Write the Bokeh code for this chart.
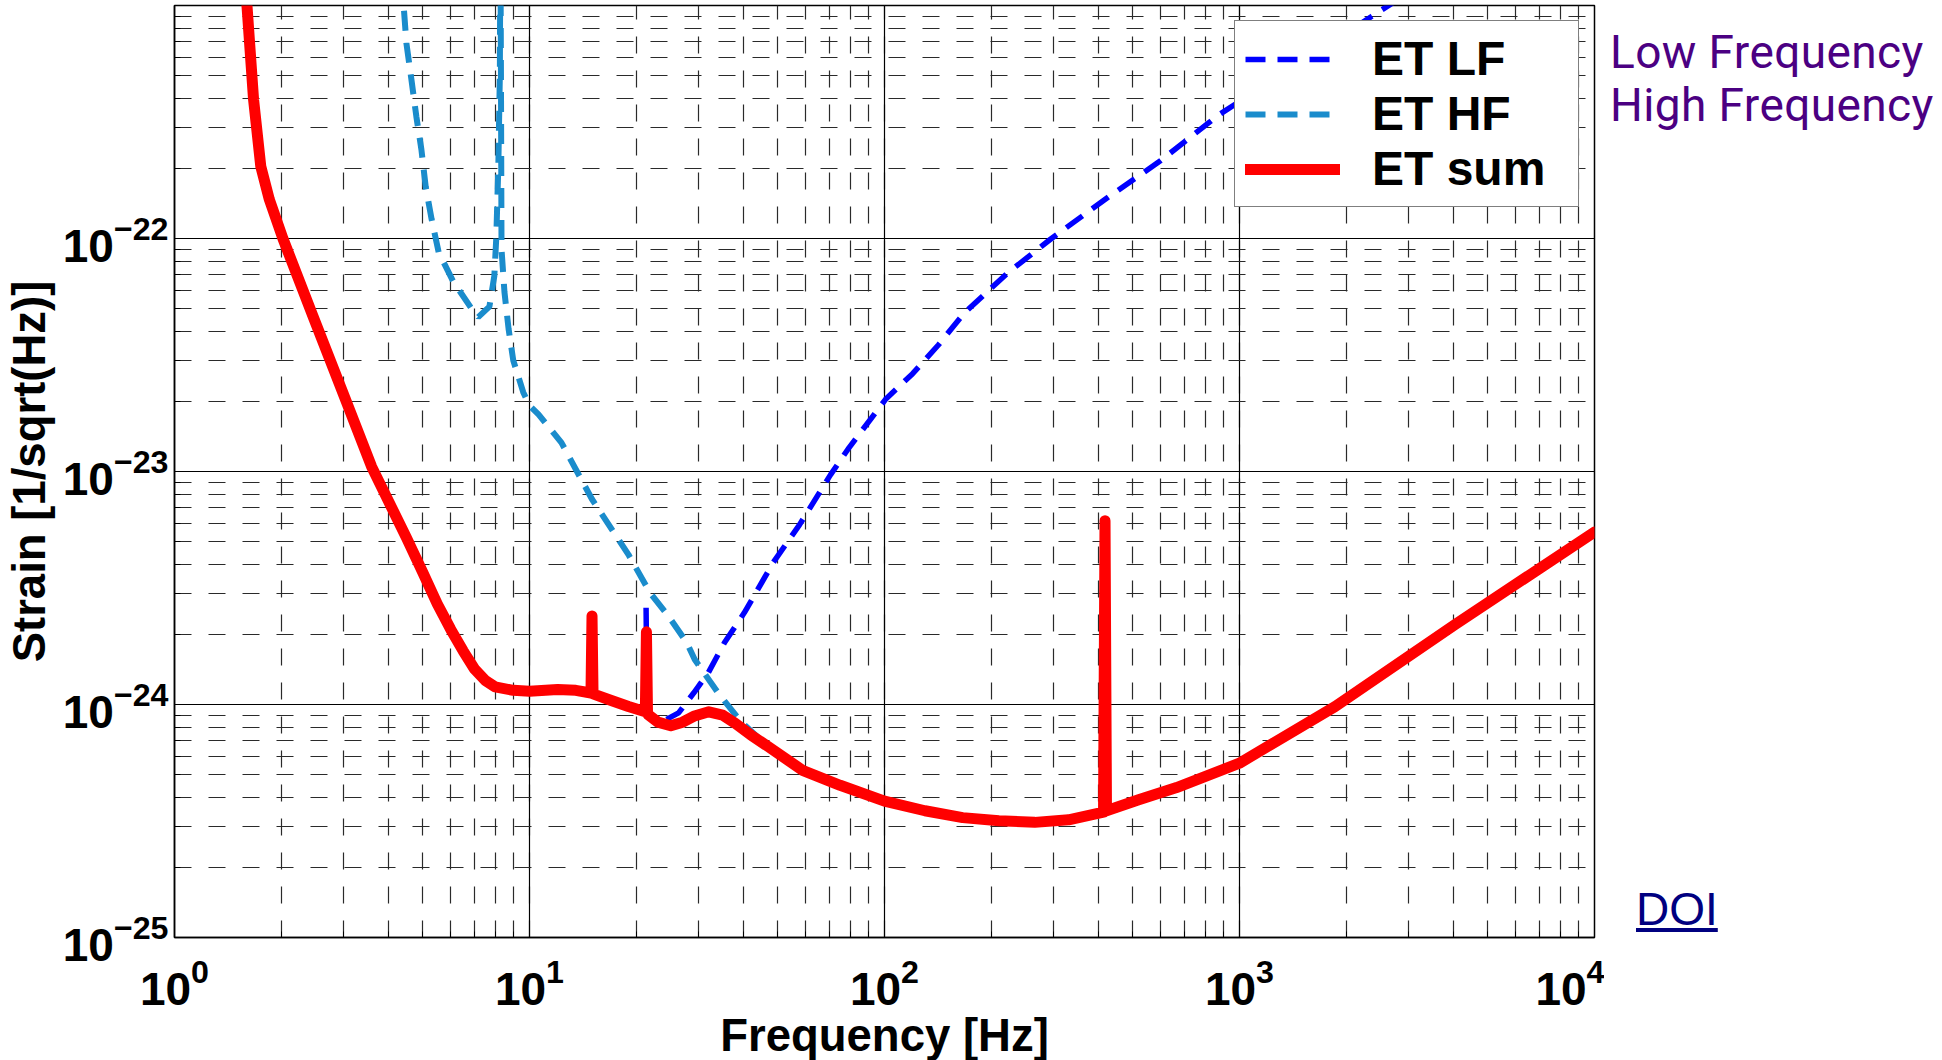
from bokeh.plotting import figure
from bokeh.models import Legend, LegendItem, Div, FixedTicker
from bokeh.layouts import row
from bokeh.embed import file_html
from bokeh.resources import INLINE

# ---------------- data ----------------
sum_f = [1.55, 1.60, 1.67, 1.75, 1.85, 2.02, 2.46, 3.03, 3.59, 4.0, 4.5, 5.0, 5.5,
         6.0, 6.5, 7.0, 7.5, 8.0, 9.0, 10.0, 12.0, 13.5, 14.9, 15.0, 15.1, 17.0,
         19.0, 21.2, 21.35, 21.5, 23.0, 25.0, 27.0, 29.0, 32.0, 35.0, 38.0, 42.0,
         47.0, 59.0, 75.0, 100.0, 130.0, 166.0, 210.0, 265.0, 330.0, 414.0, 418.0,
         422.0, 520.0, 665.0, 1000.0, 1860.0, 4040.0, 10000.0]
sum_h = [1.3e-21, 1.0e-21, 3.95e-22, 2.04e-22, 1.47e-22, 1.0e-22, 4.6e-23, 2.04e-23,
         1.05e-23, 7.5e-24, 5.2e-24, 3.7e-24, 2.7e-24, 2.1e-24, 1.7e-24, 1.42e-24,
         1.27e-24, 1.19e-24, 1.15e-24, 1.14e-24, 1.16e-24, 1.15e-24, 1.12e-24, 2.4e-24,
         1.11e-24, 1.04e-24, 9.8e-25, 9.3e-25, 2.05e-24, 9.1e-25, 8.4e-25, 8.1e-25,
         8.4e-25, 8.9e-25, 9.3e-25, 9.0e-25, 8.3e-25, 7.4e-25, 6.6e-25, 5.2e-25,
         4.5e-25, 3.85e-25, 3.5e-25, 3.27e-25, 3.17e-25, 3.12e-25, 3.2e-25, 3.45e-25,
         6.15e-24, 3.5e-25, 3.9e-25, 4.4e-25, 5.6e-25, 9.8e-25, 2.2e-24, 5.5e-24]

lf_f = [21.3, 21.45, 23.5, 26.3, 29.0, 31.9, 35.4, 40.3, 43.6, 48.6, 57.6, 70.5,
        79.6, 100.7, 120.0, 142.0, 168.0, 222.0, 294.0, 428.0, 600.0, 871.0, 2355.0,
        2900.0]
lf_h = [2.6e-24, 9.2e-25, 8.4e-25, 9.2e-25, 1.12e-24, 1.37e-24, 1.84e-24, 2.48e-24,
        3.05e-24, 4.07e-24, 5.9e-24, 9.7e-24, 1.27e-23, 2.04e-23, 2.63e-23, 3.5e-23,
        4.8e-23, 7.1e-23, 9.95e-23, 1.51e-22, 2.16e-22, 3.38e-22, 8.97e-22, 1.1e-21]

hf_f = [4.35, 4.42, 4.5, 4.65, 4.8, 4.96, 5.1, 5.3, 5.55, 6.11, 6.95, 7.17, 7.71,
        7.96, 8.06, 8.17, 8.25, 8.28, 8.31, 8.34, 8.5, 8.73, 9.0, 9.6, 10.0, 10.6,
        12.3, 15.0, 19.0, 21.9, 24.6, 27.7, 29.2, 34.0, 39.5, 45.0]
hf_h = [1.3e-21, 1.0e-21, 6.9e-22, 4.8e-22, 3.34e-22, 2.41e-22, 1.67e-22, 1.21e-22,
        8.7e-23, 6.5e-23, 4.87e-23, 4.6e-23, 5.1e-23, 6.9e-23, 1.0e-22, 2.04e-22,
        5.0e-22, 2.0e-21, 5.0e-22, 9.0e-23, 5.9e-23, 4.1e-23, 3.0e-23, 2.19e-23,
        1.92e-23, 1.76e-23, 1.33e-23, 7.6e-24, 4.4e-24, 3.0e-24, 2.4e-24, 1.85e-24,
        1.56e-24, 1.12e-24, 8.4e-25, 7.0e-25]

legend_labels = ["ET LF", "ET HF", "ET sum"]
side_texts = ["Low Frequency", "High Frequency"]
link_text = "DOI"

x_label = "Frequency [Hz]"
y_label = "Strain [1/sqrt(Hz)]"

y_major = [1e-25, 1e-24, 1e-23, 1e-22]
y_decades = [-25, -24, -23, -22]

# ---------------- figure ----------------
FL, FT, FR = 173, 5, 10
FW, FH = 1420, 932

p = figure(x_axis_type="log", y_axis_type="log",
           x_range=(1, 1e4), y_range=(1e-25, 1e-21),
           frame_width=FW, frame_height=FH,
           min_border_left=FL, min_border_right=FR,
           min_border_top=FT, min_border_bottom=118,
           output_backend="svg", toolbar_location=None)

p.yaxis.ticker = FixedTicker(
    ticks=y_major,
    minor_ticks=[m * 10.0 ** e for e in y_decades for m in range(2, 10)])

p.background_fill_color = "white"
p.border_fill_color = "white"
p.outline_line_color = "black"
p.outline_line_width = 1.5

for g in (p.xgrid, p.ygrid):
    g.grid_line_color = "black"
    g.grid_line_width = 1.2
    g.grid_line_alpha = 1
    g.minor_grid_line_color = "#2a2a2a"
    g.minor_grid_line_width = 1.2
    g.minor_grid_line_dash = "17 17"

for ax in (p.xaxis, p.yaxis):
    ax.axis_line_color = "black"
    ax.axis_line_width = 1.5
    ax.major_tick_in = 10
    ax.major_tick_out = 0
    ax.minor_tick_in = 6
    ax.minor_tick_out = 0
    ax.major_label_text_font = "Liberation Sans"
    ax.major_label_text_font_style = "bold"
    ax.major_label_text_font_size = "46px"
    ax.major_label_text_color = "black"
    ax.axis_label_text_font = "Liberation Sans"
    ax.axis_label_text_font_style = "bold"
    ax.axis_label_text_font_size = "45.5px"
    ax.axis_label_text_color = "black"

p.xaxis.axis_label = x_label
p.yaxis.axis_label = y_label
p.xaxis.major_label_standoff = 20
p.yaxis.major_label_standoff = 6
p.xaxis.axis_label_standoff = 2
p.yaxis.axis_label_standoff = 5

r_lf = p.line(lf_f, lf_h, line_color="#0000ff", line_width=5.5, line_dash="20 12")
r_hf = p.line(hf_f, hf_h, line_color="#1a8ccc", line_width=6, line_dash="20 12")
r_sum = p.line(sum_f, sum_h, line_color="#ff0000", line_width=11,
               line_join="round", line_cap="round")

legend = Legend(items=[LegendItem(label=legend_labels[0], renderers=[r_lf]),
                       LegendItem(label=legend_labels[1], renderers=[r_hf]),
                       LegendItem(label=legend_labels[2], renderers=[r_sum])],
                location="top_right", margin=15, padding=10, spacing=0,
                glyph_width=95, glyph_height=46, label_height=46,
                label_standoff=32, label_width=196,
                label_text_font="Liberation Sans", label_text_font_style="bold",
                label_text_font_size="48px", label_text_color="black",
                border_line_color="black", border_line_width=1.5,
                background_fill_color="white", background_fill_alpha=1)
p.add_layout(legend)

side_html = (
    '<div style="position:relative;width:330px;height:1040px;">'
    '<div style="position:absolute;left:1px;top:21px;font-family:Roboto;'
    'font-size:46px;line-height:53px;letter-spacing:0.4px;color:#4b0082;'
    'white-space:nowrap;">'
    + side_texts[0] + '<br>' + side_texts[1] +
    '</div>'
    '<a href="#" style="position:absolute;left:27px;top:881px;'
    'font-family:\'Liberation Sans\';font-size:46px;line-height:46px;'
    'color:#000080;text-decoration:underline;">' + link_text + '</a>'
    '</div>'
)
side = Div(text=side_html, width=330, height=1040)

open("out.html", "w").write(file_html(row(p, side), INLINE))
